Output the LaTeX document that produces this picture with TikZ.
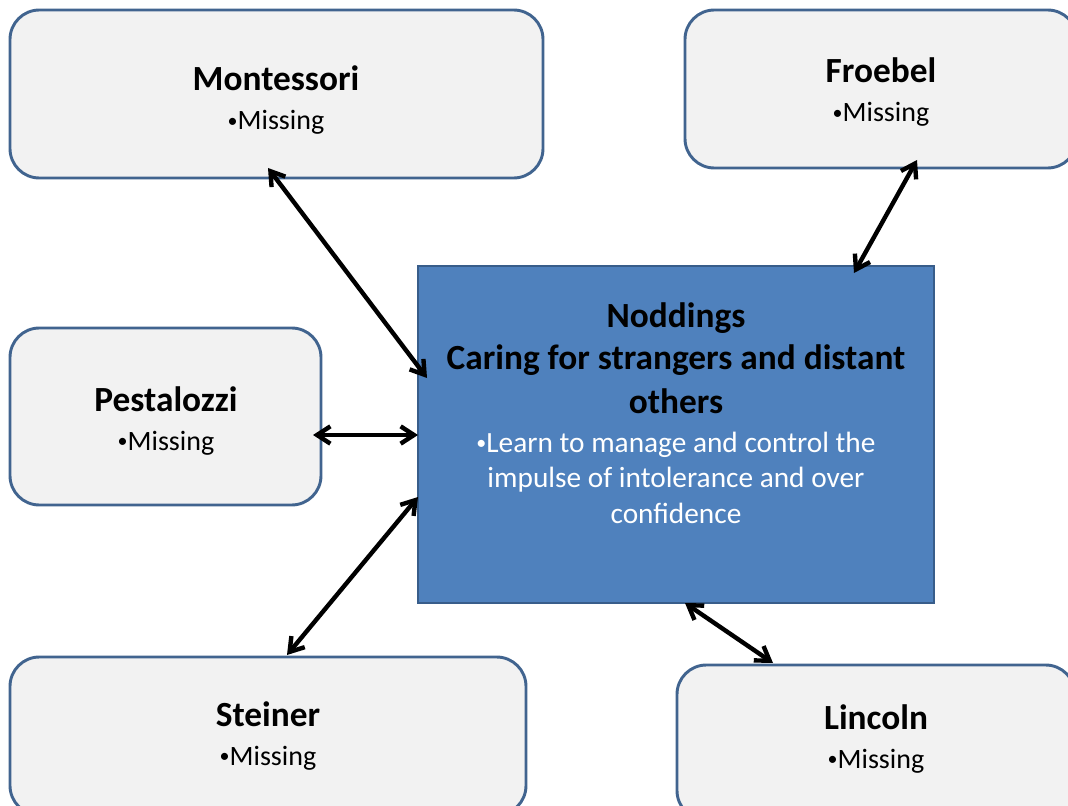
\documentclass[tikz,border=0pt]{standalone}
\usepackage{fontspec}
\setmainfont{Carlito}
\usetikzlibrary{arrows.meta,fit}
\definecolor{boxfill}{HTML}{F2F2F2}
\definecolor{boxline}{HTML}{41648F}
\definecolor{hubfill}{HTML}{4F81BD}
\definecolor{hubline}{HTML}{385D8A}
% small list bullet
\newcommand\listdot{{\fontsize{15}{15}\selectfont\raisebox{1.6pt}{\textbullet}}}
\begin{document}
\begin{tikzpicture}[x=0.75pt,y=-0.75pt,
  side/.style={draw=boxline,fill=boxfill,line width=2.2pt,rounded corners=22pt,inner sep=0pt},
  hub/.style={draw=hubline,fill=hubfill,line width=2.2pt,inner sep=0pt},
  title/.style={anchor=base,inner sep=0pt,font=\fontsize{26.5}{30}\selectfont\bfseries},
  item/.style={anchor=base,inner sep=0pt,font=\fontsize{21}{26}\selectfont},
  hubitem/.style={anchor=base,inner sep=0pt,text=white,font=\fontsize{22}{26}\selectfont},
  link/.style={line width=3.3pt,{Straight Barb[length=10pt,width=13pt]}-{Straight Barb[length=10pt,width=13pt]}}]
\useasboundingbox (0,0) rectangle (1068,806);
\clip (0,0) rectangle (1068,806);

% outer boxes
\node[side,fit={(10,10) (543,178)}] (montessori) {};
\node[side,fit={(685,10) (1077,168)}] (froebel) {};
\node[side,fit={(10,328) (321,505)}] (pestalozzi) {};
\node[side,fit={(10,657) (526,815)}] (steiner) {};
\node[side,fit={(677,665) (1075,820)}] (lincoln) {};

% central box
\node[hub,fit={(418,266) (934,603)}] (noddings) {};

% labels
\node[title] (montessori-t) at (276,91) {Montessori};
\node[item]  (montessori-i) at (276,130) {\listdot Missing};
\node[title] (froebel-t) at (881,83) {Froebel};
\node[item]  (froebel-i) at (881,122) {\listdot Missing};
\node[title] (pestalozzi-t) at (166,411) {Pestalozzi};
\node[item]  (pestalozzi-i) at (166,450) {\listdot Missing};
\node[title] (steiner-t) at (268,726) {Steiner};
\node[item]  (steiner-i) at (268,765) {\listdot Missing};
\node[title] (lincoln-t) at (876,729) {Lincoln};
\node[item]  (lincoln-i) at (876,768) {\listdot Missing};

\node[title] (noddings-t1) at (676,327) {Noddings};
\node[title] (noddings-t2) at (676,369) {Caring for strangers and distant};
\node[title] (noddings-t3) at (676,413) {others};
\node[hubitem] (noddings-i1) at (676,452) {\listdot Learn to manage and control the};
\node[hubitem] (noddings-i2) at (676,487) {impulse of intolerance and over};
\node[hubitem] (noddings-i3) at (676,523) {confidence};

% connector ends
\coordinate (m-a) at (268,168);
\coordinate (m-b) at (427,378);
\coordinate (f-a) at (917,160);
\coordinate (f-b) at (854,273);
\coordinate (p-a) at (313,435);
\coordinate (p-b) at (418,435);
\coordinate (s-a) at (287,655);
\coordinate (s-b) at (418,497);
\coordinate (l-a) at (685,603);
\coordinate (l-b) at (773,663);

\draw[link] (m-a) -- (m-b);
\draw[link] (f-a) -- (f-b);
\draw[link] (p-a) -- (p-b);
\draw[link] (s-a) -- (s-b);
\draw[link] (l-a) -- (l-b);
\end{tikzpicture}
\end{document}
